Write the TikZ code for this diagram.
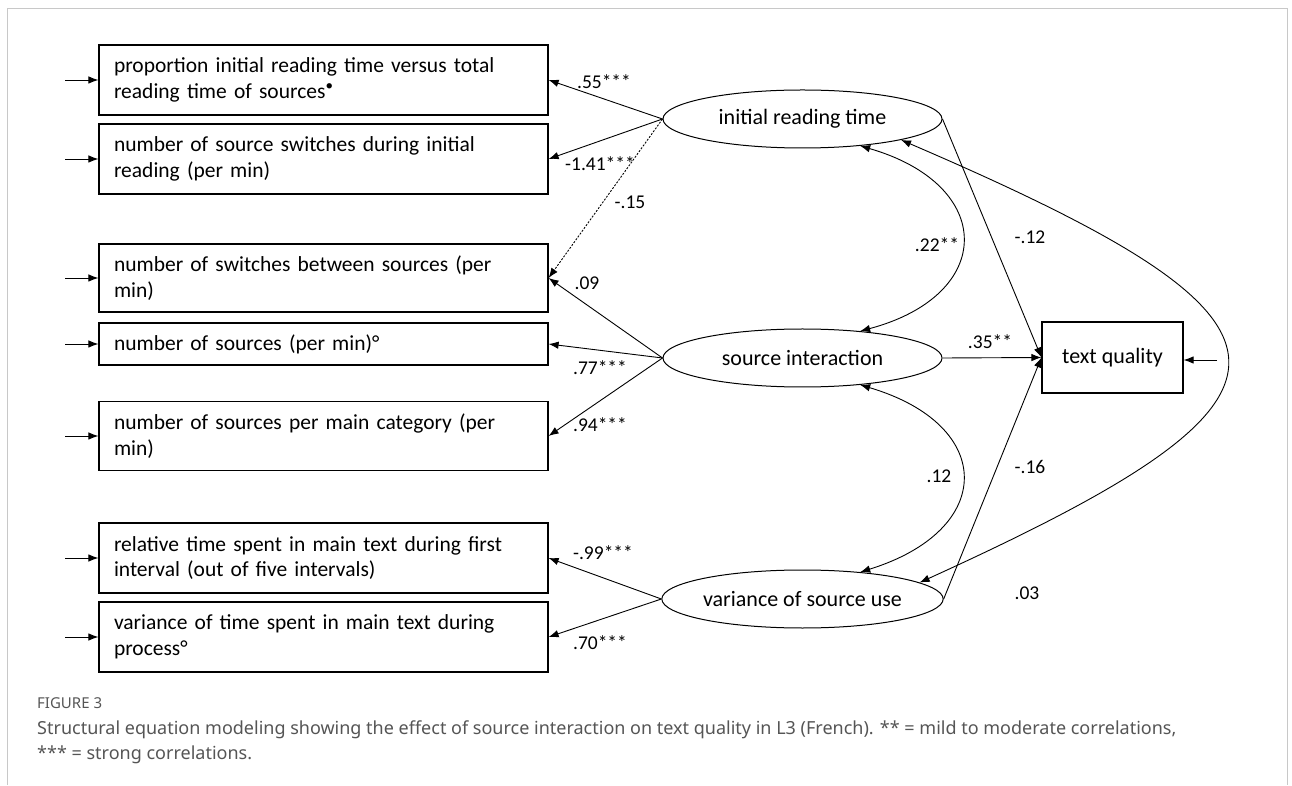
\documentclass[tikz,border=0pt]{standalone}
\usepackage{fontspec}
\setmainfont{Carlito}
\newfontfamily\capfont{Noto Sans}
\usetikzlibrary{shapes.geometric,arrows.meta}
\definecolor{framegray}{RGB}{200,200,200}
\definecolor{capgray}{RGB}{85,85,85}
\begin{document}
\begin{tikzpicture}[x=1pt,y=1pt,
    obs/.style={draw, line width=1.2pt, inner xsep=15pt, text width=419pt, align=left, font=\fontsize{21.5}{25.5}\selectfont},
    lat/.style={draw, ellipse, line width=1pt, minimum width=279pt, minimum height=58pt, inner sep=0pt, font=\fontsize{22}{26}\selectfont},
    arr/.style={-{Latex[length=10pt,width=7.5pt]}, line width=0.9pt},
    cov/.style={{Latex[length=10pt,width=7.5pt]}-{Latex[length=10pt,width=7.5pt]}, line width=0.9pt},
    coef/.style={inner sep=0pt, font=\fontsize{19.5}{22}\selectfont}]
          \useasboundingbox (0,0) rectangle (1292,785);
          \draw[framegray, line width=1pt] (7,0) -- (7,776) -- (1287,776) -- (1287,0);
          \node[obs, minimum height=70pt] (b1) at (323.5,705){proportion initial reading time versus total\\reading time of sources\textsuperscript{•}};
          \node[obs, minimum height=70pt] (b2) at (323.5,626){number of source switches during initial\\reading (per min)};
          \node[obs, minimum height=68pt] (b3) at (323.5,507){number of switches between sources (per\\min)};
          \node[obs, minimum height=42pt] (b4) at (323.5,441){number of sources (per min)°};
          \node[obs, minimum height=69pt] (b5) at (323.5,349){number of sources per main category (per\\min)};
          \node[obs, minimum height=70pt] (b6) at (323.5,227){relative time spent in main text during first\\interval (out of five intervals)};
          \node[obs, minimum height=70pt] (b7) at (323.5,148){variance of time spent in main text during\\process°};
          \coordinate (s1) at (65,705);
          \coordinate (s2) at (65,626);
          \coordinate (s3) at (65,507);
          \coordinate (s4) at (65,441);
          \coordinate (s5) at (65,349);
          \coordinate (s6) at (65,227);
          \coordinate (s7) at (65,148);
          \draw[arr](s1) -- (b1);
          \draw[arr](s2) -- (b2);
          \draw[arr](s3) -- (b3);
          \draw[arr](s4) -- (b4);
          \draw[arr](s5) -- (b5);
          \draw[arr](s6) -- (b6);
          \draw[arr](s7) -- (b7);
          \node[lat] (irt) at (802.5,666){initial reading time};
          \node[lat] (si) at (802.5,427){source interaction};
          \node[lat] (vsu) at (802.5,186){variance of source use};
          \node[draw, line width=1.2pt, minimum width=141pt, minimum height=71pt, font=\fontsize{22}{26}\selectfont] (tq) at (1112.5,427.5){text quality};
          \coordinate (stq) at (1217,425);
          \draw[arr](stq) -- (tq.east |- stq);
          \draw[arr](irt.west) -- (b1.east);
          \draw[arr](irt.west) -- (b2.east);
          \draw[arr, dash pattern=on 2pt off 1.5pt](irt.west) -- (b3.east);
          \draw[arr](si.west) -- (b3.east);
          \draw[arr](si.west) -- (b4.east);
          \draw[arr](si.west) -- (b5.east);
          \draw[arr](vsu.west) -- (b6.east);
          \draw[arr](vsu.west) -- (b7.east);
          \draw[arr](irt.east) -- (tq.west);
          \draw[arr](si.east) -- (tq.west);
          \draw[arr](vsu.east) -- (tq.west);
          \draw[cov](irt.-25) .. controls (996,600) and (996,490) .. (si.25);
          \draw[cov](si.-25) .. controls (996,360) and (996,255) .. (vsu.25);
          \draw[cov](irt.-12) .. controls (1332,460) and (1332,390) .. (vsu.8);
          \node[coef] (c1) at (604,703){.55***};
          \node[coef] (c2) at (600,621){-1.41***};
          \node[coef] (c3) at (630,583){-.15};
          \node[coef] (c4) at (587,502){.09};
          \node[coef] (c5) at (600,417){.77***};
          \node[coef] (c6) at (600,360){.94***};
          \node[coef] (c7) at (603,232){-.99***};
          \node[coef] (c8) at (600,142){.70***};
          \node[coef] (c9) at (1030,548){-.12};
          \node[coef] (c10) at (990,443){.35**};
          \node[coef] (c11) at (1030,318){-.16};
          \node[coef] (c12) at (937,540){.22**};
          \node[coef] (c13) at (939,309){.12};
          \node[coef] (c14) at (1027,192){.03};
          \node[anchor=west, inner sep=0pt, text=capgray, font=\capfont\fontsize{15}{18}\selectfont] (fig) at (37,82){FIGURE 3};
          \node[anchor=west, inner sep=0pt, text=capgray, font=\capfont\fontsize{18}{21}\selectfont] (cap1) at (37,55){Structural equation modeling showing the effect of source interaction on text quality in L3 (French). ** = mild to moderate correlations,};
          \node[anchor=west, inner sep=0pt, text=capgray, font=\capfont\fontsize{18}{21}\selectfont] (cap2) at (37,30){*** = strong correlations.};
        \end{tikzpicture}
\end{document}
